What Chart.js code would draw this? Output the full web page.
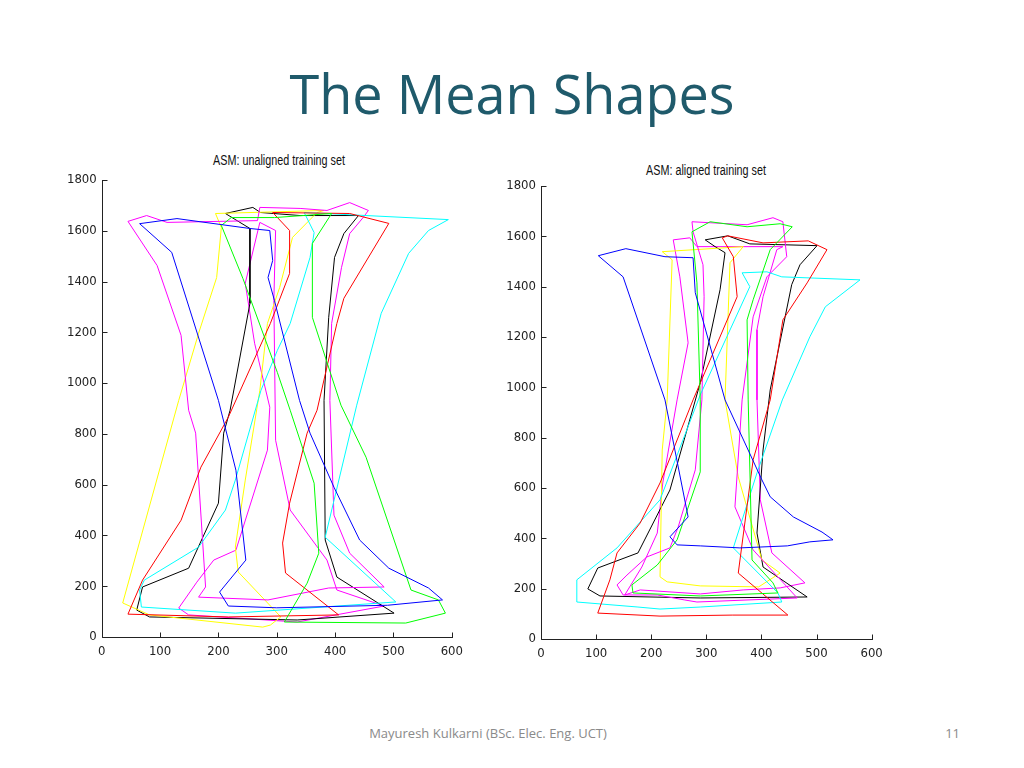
<!DOCTYPE html>
<html>
<head>
<meta charset="utf-8">
<script src="https://cdn.jsdelivr.net/npm/chart.js@4.4.1/dist/chart.umd.min.js"></script>
<style>
  html, body { margin: 0; padding: 0; background: #fff; }
  #slide { position: relative; width: 1024px; height: 768px; overflow: hidden; background: #fff; }
  #title { position: absolute; left: 0; top: 66px; width: 1024px; text-align: center;
           font-family: 'Open Sans', 'Lato', sans-serif; font-size: 54px; line-height: 54px; color: #1f5a6b; }
  .sub { position: absolute; white-space: nowrap; font-family: 'Liberation Sans', Arial, sans-serif;
         font-size: 14px; line-height: 14px; color: #111; transform: translateX(-50%) scaleX(0.77); transform-origin: center; }
  #footer { position: absolute; left: 288px; top: 727px; width: 400px; text-align: center;
            font-family: 'Open Sans', sans-serif; font-size: 13px; line-height: 13px; color: #8a8a8a; }
  #page { position: absolute; left: 900px; top: 727px; width: 60px; text-align: right;
          font-family: 'Open Sans', sans-serif; font-size: 13px; line-height: 13px; color: #8a8a8a; }
  canvas { position: absolute; }
</style>
</head>
<body>
<div id="slide">
  <div id="title">The Mean Shapes</div>
  <div class="sub" style="left:279px; top:153px;">ASM: unaligned training set</div>
  <div class="sub" style="left:706px; top:163px;">ASM: aligned training set</div>
  <canvas id="c1" width="420" height="520" style="left:50px; top:150px;"></canvas>
  <canvas id="c2" width="400" height="520" style="left:490px; top:150px;"></canvas>
  <div id="footer">Mayuresh Kulkarni (BSc. Elec. Eng. UCT)</div>
  <div id="page">11</div>
</div>
<script>
// ---- axis ticks ----
const xTicks = [0, 100, 200, 300, 400, 500, 600];
const yTicks = [0, 200, 400, 600, 800, 1000, 1200, 1400, 1600, 1800];

// ---- unaligned training set (left) : [x, y] outline points ----
const unalignedBlue = [[65,1628],[120,1515],[200,932],[230,657],[247,303],[202,177],[217,122],[300,115],[490,125],[584,146],[560,193],[492,271],[442,382],[398,590],[357,803],[339,932],[296,1326],[285,1416],[293,1483],[288,1601],[254,1609],[129,1648]];
const unalignedYellow = [[195,1668],[205,1613],[197,1416],[166,1196],[132,932],[36,134],[82,87],[276,39],[289,47],[307,79],[234,256],[229,354],[246,618],[271,972],[284,1235],[305,1377],[327,1574],[369,1672],[381,1680]];
const unalignedRed = [[45,90],[70,224],[136,460],[170,669],[217,866],[289,1235],[322,1432],[322,1601],[293,1672],[425,1668],[492,1629],[415,1334],[403,1235],[369,893],[352,803],[322,527],[310,370],[315,252],[406,87],[217,79]];
const unalignedBlack = [[254,1609],[254,1314],[220,893],[209,803],[200,527],[149,271],[70,197],[60,106],[82,79],[335,67],[501,94],[403,236],[383,382],[381,932],[389,1259],[399,1495],[415,1589],[440,1660],[340,1660],[272,1672],[259,1692],[212,1668]];
const unalignedGreen = [[222,1652],[205,1621],[242,1412],[301,1042],[323,893],[364,606],[372,330],[352,212],[313,59],[521,55],[589,94],[577,146],[530,185],[453,708],[410,913],[361,1259],[361,1550],[394,1668],[296,1652]];
const unalignedCyan = [[347,1672],[594,1644],[560,1601],[526,1511],[479,1275],[437,913],[383,393],[504,138],[229,94],[68,118],[65,185],[73,224],[166,354],[212,500],[229,618],[273,972],[301,1129],[323,1235],[357,1495],[364,1593]];
const unalignedMagentaA = [[45,1637],[77,1660],[112,1633],[267,1640],[271,1692],[340,1688],[386,1680],[425,1711],[457,1680],[448,1652],[425,1589],[411,1456],[394,1235],[391,932],[398,480],[425,330],[484,197],[389,193],[285,146],[166,157],[178,197],[161,803],[149,893],[136,1188],[95,1463]];
const unalignedMagentaB = [[271,1633],[246,1393],[262,1157],[288,905],[284,736],[230,342],[192,303],[163,216],[132,114],[149,87],[335,59],[484,122],[403,185],[386,303],[323,500],[298,775],[295,1326],[298,1601]];

// ---- aligned training set (right) ----
const alignedBlue = [[104,1523],[154,1551],[225,1519],[276,1515],[280,1376],[334,950],[401,632],[416,565],[458,485],[510,425],[530,394],[488,386],[447,370],[361,362],[289,370],[247,374],[234,406],[267,485],[225,950],[149,1439]];
const alignedYellow = [[220,1539],[367,1559],[343,1495],[334,950],[358,644],[401,314],[434,262],[395,207],[289,211],[229,227],[216,247],[220,751],[229,950],[238,1507]];
const alignedRed = [[103,103],[125,235],[138,342],[180,461],[216,620],[276,950],[356,1360],[349,1519],[329,1594],[339,1602],[403,1574],[485,1582],[519,1547],[483,1415],[439,1268],[416,950],[385,712],[358,262],[448,95],[347,95],[216,91]];
const alignedBlack = [[298,1586],[339,1602],[379,1570],[501,1563],[470,1487],[455,1408],[416,990],[403,751],[392,421],[403,286],[483,167],[289,163],[107,171],[85,199],[103,282],[176,342],[234,592],[289,1018],[325,1388],[334,1535],[316,1559]];
const alignedGreen = [[274,1618],[307,1658],[374,1638],[434,1650],[456,1638],[416,1547],[385,1348],[374,1268],[376,950],[383,314],[421,223],[430,183],[289,171],[167,183],[165,215],[211,294],[247,394],[289,664],[289,950],[283,1415]];
const alignedCyan = [[365,1455],[410,1459],[437,1439],[579,1427],[516,1320],[488,1201],[438,950],[392,660],[349,362],[430,183],[437,147],[289,127],[216,119],[176,127],[65,147],[65,235],[138,362],[216,553],[289,970],[379,1400]];
const alignedMagentaA = [[274,1658],[374,1646],[421,1674],[439,1658],[446,1519],[410,1439],[385,1280],[365,950],[352,525],[385,354],[465,163],[283,147],[261,155],[211,175],[149,175],[138,215],[156,254],[192,326],[234,362],[249,445],[280,672],[292,950],[296,1360],[294,1487],[276,1618]];
const alignedMagentaB = [[240,1586],[270,1594],[283,1559],[439,1559],[428,1547],[403,1360],[392,1229],[392,950],[398,553],[419,342],[479,223],[434,203],[367,195],[289,179],[180,195],[152,175],[183,286],[211,421],[221,620],[247,950],[267,1177],[252,1439]];

const colors = { b:'#0000ff', g:'#00ff00', r:'#ff0000', c:'#00ffff', m:'#ff00ff', y:'#ffff00', k:'#000000' };

const leftShapes = [
  [unalignedBlue, colors.b], [unalignedGreen, colors.g], [unalignedRed, colors.r], [unalignedCyan, colors.c],
  [unalignedMagentaA, colors.m], [unalignedYellow, colors.y], [unalignedBlack, colors.k], [unalignedMagentaB, colors.m]
];
const rightShapes = [
  [alignedBlue, colors.b], [alignedGreen, colors.g], [alignedRed, colors.r], [alignedCyan, colors.c],
  [alignedMagentaA, colors.m], [alignedYellow, colors.y], [alignedBlack, colors.k], [alignedMagentaB, colors.m]
];

function toDataset(pts, color) {
  const data = pts.map(p => ({ x: p[0], y: p[1] }));
  data.push({ x: pts[0][0], y: pts[0][1] });
  return { data, borderColor: color, backgroundColor: color, borderWidth: 1, showLine: true,
           pointRadius: 0, pointHoverRadius: 0, tension: 0, fill: false };
}

const inwardTicks = {
  id: 'inwardTicks',
  afterDraw(chart) {
    const { ctx, chartArea: { left, right, top, bottom }, scales: { x, y } } = chart;
    ctx.save();
    ctx.strokeStyle = '#222';
    ctx.lineWidth = 1;
    ctx.beginPath();
    const L = Math.round(left) + 0.5, B = Math.round(bottom) + 0.5;
    ctx.moveTo(L, Math.round(top));
    ctx.lineTo(L, B);
    ctx.lineTo(Math.round(right) + 1, B);
    xTicks.forEach(v => { const px = Math.round(x.getPixelForValue(v)) + 0.5; ctx.moveTo(px, B); ctx.lineTo(px, B - 5); });
    yTicks.forEach(v => { const py = Math.round(y.getPixelForValue(v)) + 0.5; ctx.moveTo(L, py); ctx.lineTo(L + 5, py); });
    ctx.stroke();
    ctx.restore();
  }
};

const tickFont = { family: "'Liberation Sans Narrow','Arial Narrow','DejaVu Sans Condensed','Liberation Sans',sans-serif", size: 13 };
const plainLabel = v => String(v);

function makeChart(id, shapes, pad, yWidth, xHeight) {
  return new Chart(document.getElementById(id), {
    type: 'scatter',
    data: { datasets: shapes.map(s => toDataset(s[0], s[1])) },
    options: {
      responsive: false, animation: false, devicePixelRatio: 1,
      layout: { padding: pad },
      plugins: { legend: { display: false }, tooltip: { enabled: false }, title: { display: false } },
      scales: {
        x: {
          type: 'linear', min: 0, max: 600,
          afterBuildTicks: s => { s.ticks = xTicks.map(v => ({ value: v })); },
          afterFit: s => { s.height = xHeight; },
          grid: { display: false, drawTicks: false }, border: { display: false },
          ticks: { font: tickFont, color: '#222', padding: 7, maxRotation: 0, autoSkip: false, callback: plainLabel }
        },
        y: {
          type: 'linear', min: 0, max: 1800,
          afterBuildTicks: s => { s.ticks = yTicks.map(v => ({ value: v })); },
          afterFit: s => { s.width = yWidth; },
          grid: { display: false, drawTicks: false }, border: { display: false },
          ticks: { font: tickFont, color: '#222', padding: 5, autoSkip: false, callback: plainLabel }
        }
      }
    },
    plugins: [inwardTicks]
  });
}

makeChart('c1', leftShapes, { top: 30, right: 13.3, left: 0, bottom: 0 }, 51.7, 33);
makeChart('c2', rightShapes, { top: 36, right: 18.4, left: 0, bottom: 0 }, 51, 31);
</script>
</body>
</html>
